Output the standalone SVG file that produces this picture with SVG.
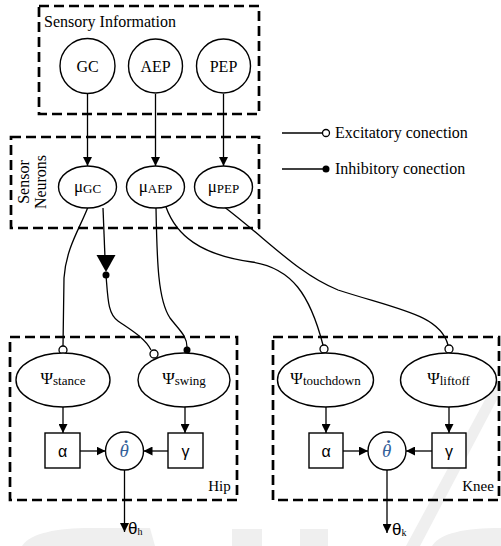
<svg xmlns="http://www.w3.org/2000/svg" width="501" height="546" viewBox="0 0 501 546">
  <style>
    .frame { fill: none; stroke: #000; stroke-width: 2.7; stroke-dasharray: 10 5; }
    .node { fill: #fff; stroke: #000; stroke-width: 1.4; }
    .wire { fill: none; stroke: #000; stroke-width: 1.3; }
    .arrow { fill: none; stroke: #000; stroke-width: 1.3; marker-end: url(#head); }
    .exc { fill: #fff; stroke: #000; stroke-width: 1.3; }
    .inh { fill: #000; }
    .serif { font-family: "Liberation Serif", "Times New Roman", serif; fill: #000; }
    .sans { font-family: "Liberation Sans", Arial, sans-serif; fill: #000; }
    .lbl { font-size: 16px; }
    .mid { text-anchor: middle; }
    .sub { font-size: 13px; }
    .theta { font-family: "Liberation Serif", "Times New Roman", serif; font-style: italic; font-size: 19px; fill: #35619a; }
    .wm { fill: #efefef; }
  </style>
  <defs>
    <marker id="head" viewBox="0 0 10 10" refX="10" refY="5" markerWidth="9" markerHeight="9" markerUnits="userSpaceOnUse" orient="auto">
      <path d="M0,0 L10,5 L0,10 z" fill="#000"/>
    </marker>
  </defs>

  <!-- faint publisher watermark -->
  <g id="watermark">
    <polygon class="wm" points="494,383 501,383 501,392 420,546 406,546"/>
    <path class="wm" d="M22,546 C30,533 58,528 90,528 L150,528 L155,546 Z"/>
    <rect class="wm" x="232" y="529" width="30" height="17"/>
    <rect class="wm" x="300" y="529" width="28" height="17"/>
    <path class="wm" d="M432,546 C440,533 465,528 501,528 L501,546 Z"/>
  </g>

  <!-- group frames -->
  <g id="frame-sensory">
    <rect class="frame" x="39" y="6" width="220" height="108"/>
    <text class="serif lbl" x="44" y="27">Sensory Information</text>
  </g>
  <g id="frame-neurons">
    <rect class="frame" x="11" y="137" width="248" height="91"/>
    <text class="serif lbl mid" transform="translate(29,182) rotate(-90)">Sensor</text>
    <text class="serif lbl mid" transform="translate(46,182) rotate(-90)">Neurons</text>
  </g>
  <g id="frame-hip">
    <rect class="frame" x="10" y="337" width="227" height="163"/>
    <text class="serif mid" font-size="15" x="219.5" y="491">Hip</text>
  </g>
  <g id="frame-knee">
    <rect class="frame" x="273" y="337" width="226" height="163"/>
    <text class="serif mid" font-size="15" x="478" y="491">Knee</text>
  </g>

  <!-- legend -->
  <g id="legend">
    <line class="wire" x1="282" y1="133" x2="322" y2="133"/>
    <circle class="exc" cx="326" cy="133" r="3.5"/>
    <text class="serif lbl" x="335" y="138">Excitatory conection</text>
    <line class="wire" x1="282" y1="169" x2="323" y2="169"/>
    <circle class="inh" cx="326" cy="169" r="3.5"/>
    <text class="serif lbl" x="335" y="174">Inhibitory conection</text>
  </g>

  <!-- connectors -->
  <g id="connectors">
    <line class="arrow" x1="87.5" y1="94" x2="87.5" y2="166"/>
    <line class="arrow" x1="155.5" y1="94" x2="155.5" y2="166"/>
    <line class="arrow" x1="223.5" y1="94" x2="223.5" y2="166"/>

    <!-- mu_GC to psi_stance -->
    <path class="wire" d="M88,207 C80,228 66,248 64,278 L63,346"/>
    <circle class="exc" cx="63" cy="350" r="4"/>

    <!-- mu_GC through the gate to psi_swing -->
    <line class="wire" x1="103" y1="208" x2="105" y2="258"/>
    <polygon points="96.5,255 115.5,255 106,272" fill="#000"/>
    <circle class="inh" cx="106" cy="275" r="3.5"/>
    <path class="wire" d="M106,275 C108,300 108,314 118,321 C131,330 145,338 151,350"/>
    <circle class="exc" cx="154" cy="354" r="4"/>

    <!-- mu_AEP to psi_swing -->
    <path class="wire" d="M156,208 C157,262 158,300 170,318 C180,331 187,336 187,347"/>
    <circle class="inh" cx="187" cy="350" r="3.5"/>

    <!-- mu_AEP to psi_touchdown -->
    <path class="wire" d="M166,207 C176,235 200,255 252,262 C292,268 310,295 323,345"/>
    <circle class="exc" cx="324" cy="349" r="4"/>

    <!-- mu_PEP to psi_liftoff -->
    <path class="wire" d="M223,206 C268,240 298,274 338,290 C400,310 440,315 448,345"/>
    <circle class="exc" cx="449" cy="349" r="4"/>

    <!-- psi to gains -->
    <line class="arrow" x1="63" y1="407" x2="63" y2="433"/>
    <line class="arrow" x1="185" y1="407" x2="185" y2="433"/>
    <line class="arrow" x1="326" y1="407" x2="326" y2="433"/>
    <line class="arrow" x1="449" y1="407" x2="449" y2="433"/>

    <!-- gains to theta-dot -->
    <line class="arrow" x1="80" y1="451" x2="105.5" y2="451"/>
    <line class="arrow" x1="168" y1="451" x2="143.5" y2="451"/>
    <line class="arrow" x1="343" y1="451" x2="368" y2="451"/>
    <line class="arrow" x1="432" y1="451" x2="406" y2="451"/>

    <!-- outputs -->
    <line class="arrow" x1="124.5" y1="470" x2="124.5" y2="532"/>
    <line class="arrow" x1="387" y1="470" x2="387" y2="533"/>
  </g>

  <!-- sensory inputs -->
  <g id="gc">
    <circle class="node" cx="87.5" cy="66" r="27.5"/>
    <text class="serif lbl mid" x="87.5" y="72">GC</text>
  </g>
  <g id="aep">
    <circle class="node" cx="155.5" cy="66" r="27"/>
    <text class="serif lbl mid" x="155.5" y="72">AEP</text>
  </g>
  <g id="pep">
    <circle class="node" cx="223.5" cy="66" r="27"/>
    <text class="serif lbl mid" x="223.5" y="72">PEP</text>
  </g>

  <!-- sensor neurons -->
  <g id="mu-gc">
    <ellipse class="node" cx="87.5" cy="187" rx="29" ry="21"/>
    <text class="serif mid" x="87.5" y="192"><tspan font-size="17">μ</tspan><tspan class="sub" dy="1">GC</tspan></text>
  </g>
  <g id="mu-aep">
    <ellipse class="node" cx="155.5" cy="187" rx="29" ry="21"/>
    <text class="serif mid" x="155.5" y="192"><tspan font-size="17">μ</tspan><tspan class="sub" dy="1">AEP</tspan></text>
  </g>
  <g id="mu-pep">
    <ellipse class="node" cx="223.5" cy="187" rx="29" ry="21"/>
    <text class="serif mid" x="223.5" y="192"><tspan font-size="17">μ</tspan><tspan class="sub" dy="1">PEP</tspan></text>
  </g>

  <!-- hip oscillator -->
  <g id="psi-stance">
    <ellipse class="node" cx="63" cy="380" rx="47" ry="27"/>
    <text class="serif mid" x="63" y="384"><tspan font-size="17">Ψ</tspan><tspan class="sub" dy="1">stance</tspan></text>
  </g>
  <g id="psi-swing">
    <ellipse class="node" cx="184" cy="380" rx="46" ry="27"/>
    <text class="serif mid" x="184" y="384"><tspan font-size="17">Ψ</tspan><tspan class="sub" dy="1">swing</tspan></text>
  </g>
  <g id="hip-alpha">
    <rect class="node" x="45" y="433" width="35" height="35"/>
    <text class="sans mid" font-size="16" x="62.5" y="457">α</text>
  </g>
  <g id="hip-theta">
    <circle class="node" cx="124.5" cy="451" r="19"/>
    <text class="theta" x="119.5" y="457">θ<tspan font-weight="bold" dx="-7" dy="-3">˙</tspan></text>
  </g>
  <g id="hip-gamma">
    <rect class="node" x="168" y="433" width="35" height="35"/>
    <text class="sans mid" font-size="16" x="185.5" y="457">γ</text>
  </g>
  <g id="theta-h">
    <text class="sans" font-size="17" x="128" y="534">θ<tspan class="serif" font-size="10" dy="1">h</tspan></text>
  </g>

  <!-- knee oscillator -->
  <g id="psi-touchdown">
    <ellipse class="node" cx="325.5" cy="380" rx="48" ry="27"/>
    <text class="serif mid" x="325.5" y="384"><tspan font-size="17">Ψ</tspan><tspan class="sub" dy="1">touchdown</tspan></text>
  </g>
  <g id="psi-liftoff">
    <ellipse class="node" cx="448.5" cy="380" rx="48" ry="27"/>
    <text class="serif mid" x="448.5" y="384"><tspan font-size="17">Ψ</tspan><tspan class="sub" dy="1">liftoff</tspan></text>
  </g>
  <g id="knee-alpha">
    <rect class="node" x="309" y="433" width="34" height="35"/>
    <text class="sans mid" font-size="16" x="326" y="457">α</text>
  </g>
  <g id="knee-theta">
    <circle class="node" cx="387" cy="451" r="19"/>
    <text class="theta" x="382" y="457">θ<tspan font-weight="bold" dx="-7" dy="-3">˙</tspan></text>
  </g>
  <g id="knee-gamma">
    <rect class="node" x="432" y="433" width="34" height="35"/>
    <text class="sans mid" font-size="16" x="449" y="457">γ</text>
  </g>
  <g id="theta-k">
    <text class="sans" font-size="17" x="392" y="535">θ<tspan class="serif" font-size="10" dy="1">k</tspan></text>
  </g>
</svg>
